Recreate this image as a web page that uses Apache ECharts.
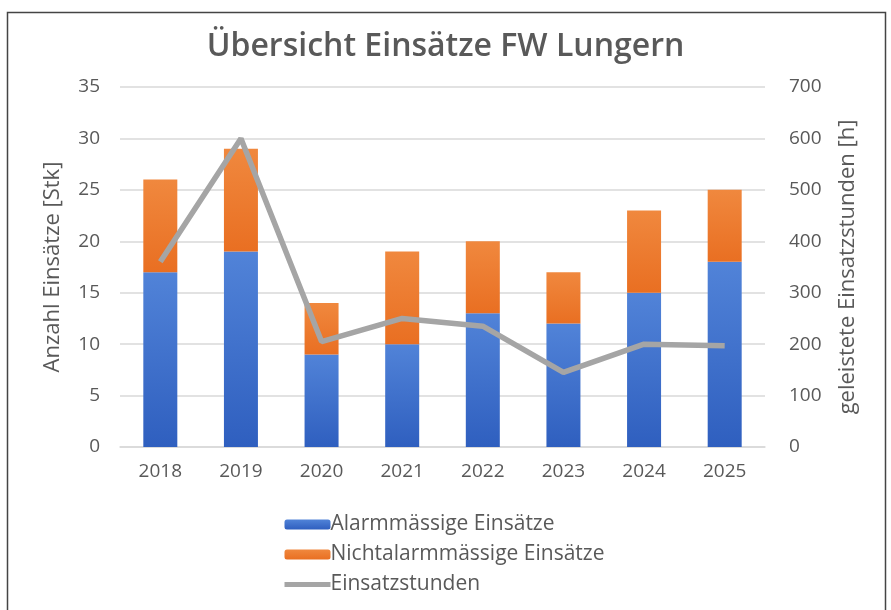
<!DOCTYPE html>
<html>
<head>
    <meta charset="utf-8">
    <title>Übersicht Einsätze FW Lungern</title>
    <script src="https://cdn.jsdelivr.net/npm/echarts@6/dist/echarts.min.js"></script>
    <style>
        html, body { margin: 0; padding: 0; background: #fff; }
        #chart1 { width: 891px; height: 610px; }
    </style>
</head>
<body>
<div id="chart1"></div>
<script type="text/javascript">
    // Daten
    var jahre = ['2018', '2019', '2020', '2021', '2022', '2023', '2024', '2025'];
    var alarmmaessig = [17, 19, 9, 10, 13, 12, 15, 18];
    var nichtAlarmmaessig = [9, 10, 5, 9, 7, 5, 8, 7];
    var einsatzstunden = [360, 600, 205, 250, 235, 145, 200, 197];

    var schrift = '"Open Sans", "Liberation Sans", sans-serif';
    var textFarbe = '#595959';

    var myChart1 = echarts.init(document.getElementById('chart1'));

    myChart1.setOption({
        animation: false,
        title: {
            text: 'Übersicht Einsätze FW Lungern',
            left: 'center',
            top: 26,
            textStyle: { fontFamily: schrift, fontSize: 32, fontWeight: 600, color: textFarbe }
        },
        graphic: [{
            type: 'rect',
            shape: { x: 7.5, y: 12.5, width: 878, height: 620 },
            style: { fill: 'none', stroke: '#444', lineWidth: 1.5 },
            silent: true
        }],
        legend: {
            orient: 'vertical',
            left: 277,
            top: 509,
            itemWidth: 46,
            itemHeight: 10,
            itemGap: 9,
            textStyle: { fontFamily: schrift, fontSize: 21, color: textFarbe, padding: [0, 0, 0, -5] },
            data: [
                { name: 'Alarmmässige Einsätze' },
                { name: 'Nichtalarmmässige Einsätze' },
                { name: 'Einsatzstunden', itemStyle: { opacity: 0 }, lineStyle: { width: 5 } }
            ]
        },
        grid: { left: 120, right: 126, top: 87, bottom: 163 },
        xAxis: {
            type: 'category',
            data: jahre,
            axisTick: { show: false },
            axisLine: { lineStyle: { color: '#d9d9d9', width: 1.5 } },
            axisLabel: { fontFamily: schrift, fontSize: 19, color: textFarbe, margin: 15 }
        },
        yAxis: [{
            type: 'value',
            min: 0, max: 35, interval: 5,
            name: 'Anzahl Einsätze [Stk]',
            nameLocation: 'middle',
            nameGap: 56,
            nameTextStyle: { fontFamily: schrift, fontSize: 22, color: textFarbe },
            axisLabel: { fontFamily: schrift, fontSize: 19, color: textFarbe, margin: 20 },
            splitLine: { lineStyle: { color: '#d9d9d9', width: 1.5 } }
        }, {
            type: 'value',
            min: 0, max: 700, interval: 100,
            name: 'geleistete Einsatzstunden [h]',
            nameLocation: 'middle',
            nameGap: 72,
            nameRotate: 90,
            nameTextStyle: { fontFamily: schrift, fontSize: 22, color: textFarbe },
            axisLabel: { fontFamily: schrift, fontSize: 19, color: textFarbe, margin: 24 },
            splitLine: { show: false }
        }],
        series: [{
            name: 'Alarmmässige Einsätze',
            type: 'bar',
            stack: 'einsaetze',
            barWidth: 34,
            data: alarmmaessig,
            itemStyle: {
                color: new echarts.graphic.LinearGradient(0, 0, 0, 1, [
                    { offset: 0, color: '#5183d8' },
                    { offset: 1, color: '#2f5fbf' }
                ])
            }
        }, {
            name: 'Nichtalarmmässige Einsätze',
            type: 'bar',
            stack: 'einsaetze',
            barWidth: 34,
            data: nichtAlarmmaessig,
            itemStyle: {
                color: new echarts.graphic.LinearGradient(0, 0, 0, 1, [
                    { offset: 0, color: '#f0883e' },
                    { offset: 1, color: '#e96f22' }
                ])
            }
        }, {
            name: 'Einsatzstunden',
            type: 'line',
            yAxisIndex: 1,
            symbol: 'none',
            data: einsatzstunden,
            lineStyle: { color: '#a5a5a5', width: 5.5 },
            itemStyle: { color: '#a5a5a5' }
        }]
    });
</script>
</body>
</html>
